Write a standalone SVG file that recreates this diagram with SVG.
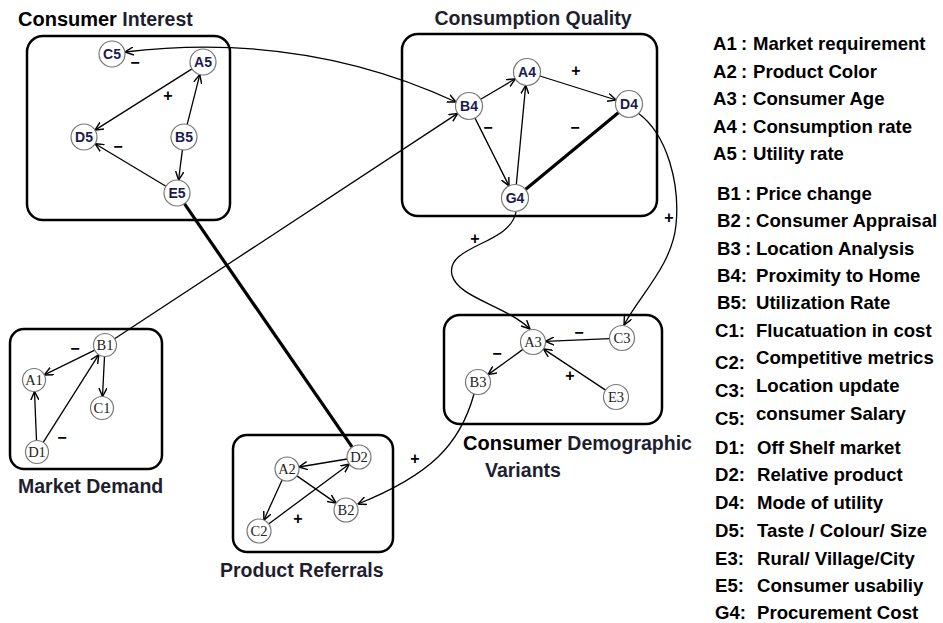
<svg xmlns="http://www.w3.org/2000/svg" width="943" height="623" viewBox="0 0 943 623">
<style>
.box{fill:none;stroke:#000;stroke-width:2.5}
.nd{fill:#fff;stroke:#777;stroke-width:1.2}
.ns{font-family:"Liberation Sans",Arial,sans-serif;font-size:14px;font-weight:bold;fill:#1a1a50;text-anchor:middle}
.nf{font-family:"Liberation Serif","Times New Roman",serif;font-size:14.5px;fill:#222;text-anchor:middle}
.e{fill:none;stroke:#000;stroke-width:1.3}
.t{fill:none;stroke:#000;stroke-width:3.2}
.sg{font-family:"Liberation Sans",Arial,sans-serif;font-size:16px;font-weight:bold;fill:#000;text-anchor:middle}
.ti{font-family:"Liberation Sans",Arial,sans-serif;font-weight:bold;fill:#1e1e30;font-size:19.5px}
.tc{fill:#000;font-size:20px}
.lg{font-family:"Liberation Sans",Arial,sans-serif;font-weight:bold;font-size:18.6px;fill:#000}
</style>
<defs>
<marker id="ar" viewBox="0 0 10 10" refX="9.5" refY="5" markerWidth="9" markerHeight="9" markerUnits="userSpaceOnUse" orient="auto-start-reverse">
<path d="M0,0.5 L9.5,5 L0,9.5" fill="none" stroke="#000" stroke-width="1.6"/>
</marker>
</defs>

<!-- Boxes and titles -->
<g id="consumer-interest">
<rect class="box" x="27" y="36" width="203" height="184" rx="16"/>
<text class="ti" x="18" y="26"><tspan class="tc">Consumer</tspan> Interest</text>
</g>
<g id="consumption-quality">
<rect class="box" x="402" y="34" width="255" height="182" rx="16"/>
<text class="ti" x="533" y="25" text-anchor="middle">Consumption Quality</text>
</g>
<g id="market-demand">
<rect class="box" x="10" y="329" width="152" height="140" rx="14"/>
<text class="ti" x="18" y="493">Market Demand</text>
</g>
<g id="consumer-demographic">
<rect class="box" x="444" y="315" width="218" height="109" rx="16"/>
<text class="ti" x="463" y="450"><tspan class="tc" font-size="21px">Consumer</tspan> Demographic</text>
<text class="ti" x="485" y="477">Variants</text>
</g>
<g id="product-referrals">
<rect class="box" x="233" y="435" width="160" height="117" rx="14"/>
<text class="ti" x="220" y="577">Product Referrals</text>
</g>

<!-- Connectors -->
<g id="connectors">
<line class="e" x1="192" y1="68.9" x2="95" y2="130.1" marker-end="url(#ar)"/>
<line class="e" x1="187.2" y1="124.4" x2="199.8" y2="74.6" marker-end="url(#ar)"/>
<line class="e" x1="182.4" y1="149.9" x2="178.6" y2="180.1" marker-end="url(#ar)"/>
<line class="e" x1="165.9" y1="186.3" x2="95.1" y2="143.7" marker-end="url(#ar)"/>
<path class="e" d="M125,52 C260,36 370,62 456,102" marker-start="url(#ar)" marker-end="url(#ar)"/>
<line class="e" x1="114.6" y1="338.7" x2="457.7" y2="113.4" marker-end="url(#ar)"/>
<line class="t" x1="184.4" y1="203.7" x2="352.2" y2="447.1"/>
<line class="e" x1="480.7" y1="99.2" x2="515.3" y2="78.8" marker-end="url(#ar)"/>
<line class="e" x1="539.9" y1="76" x2="616.1" y2="100" marker-end="url(#ar)"/>
<line class="e" x1="475" y1="118.1" x2="509" y2="185.9" marker-end="url(#ar)"/>
<line class="e" x1="516.3" y1="184.6" x2="525.7" y2="85.4" marker-end="url(#ar)"/>
<line class="t" x1="525.4" y1="189.4" x2="618.6" y2="112.6"/>
<path class="e" d="M638,113 C668,135 680,185 676,225 C672,265 640,295 624,325" marker-end="url(#ar)"/>
<path class="e" d="M516,212 C510,245 445,245 452,275 C458,298 505,305 530,329" marker-end="url(#ar)"/>
<line class="e" x1="94.7" y1="350.1" x2="44.3" y2="374.9" marker-end="url(#ar)"/>
<line class="e" x1="36.5" y1="440.5" x2="34.5" y2="391.5" marker-end="url(#ar)"/>
<line class="e" x1="43.2" y1="442.3" x2="98.8" y2="354.7" marker-end="url(#ar)"/>
<line class="e" x1="104.5" y1="356.5" x2="102.5" y2="396.5" marker-end="url(#ar)"/>
<line class="e" x1="609.5" y1="338.6" x2="545.5" y2="341.4" marker-end="url(#ar)"/>
<line class="e" x1="605.6" y1="390.1" x2="543.4" y2="348.9" marker-end="url(#ar)"/>
<line class="e" x1="522.9" y1="349.4" x2="488.1" y2="374.6" marker-end="url(#ar)"/>
<path class="e" d="M474,394 C460,445 430,475 358,504" marker-end="url(#ar)"/>
<line class="e" x1="347.2" y1="459" x2="298.8" y2="467" marker-end="url(#ar)"/>
<line class="e" x1="296.9" y1="475.9" x2="336.1" y2="503.1" marker-end="url(#ar)"/>
<line class="e" x1="282.1" y1="479.9" x2="263.9" y2="520.1" marker-end="url(#ar)"/>
<line class="e" x1="268.6" y1="523.9" x2="349.4" y2="464.1" marker-end="url(#ar)"/>
<text class="sg" x="135" y="67.5">−</text>
<text class="sg" x="168" y="100.5">+</text>
<text class="sg" x="118" y="151.5">−</text>
<text class="sg" x="576" y="75.5">+</text>
<text class="sg" x="488" y="132.5">−</text>
<text class="sg" x="575" y="132.5">−</text>
<text class="sg" x="669" y="222.5">+</text>
<text class="sg" x="475" y="243.5">+</text>
<text class="sg" x="75" y="353.5">−</text>
<text class="sg" x="62" y="442.5">−</text>
<text class="sg" x="579" y="337.5">−</text>
<text class="sg" x="570" y="380.5">+</text>
<text class="sg" x="497" y="358.5">−</text>
<text class="sg" x="298" y="523.5">+</text>
<text class="sg" x="415" y="463.5">+</text>
</g>

<!-- Nodes -->
<g id="C5"><circle class="nd" cx="112" cy="54" r="13"/><text class="ns" x="112" y="59">C5</text></g>
<g id="A5"><circle class="nd" cx="203" cy="62" r="13"/><text class="ns" x="203" y="67">A5</text></g>
<g id="D5"><circle class="nd" cx="84" cy="137" r="13"/><text class="ns" x="84" y="142">D5</text></g>
<g id="B5"><circle class="nd" cx="184" cy="137" r="13"/><text class="ns" x="184" y="142">B5</text></g>
<g id="E5"><circle class="nd" cx="177" cy="193" r="13"/><text class="ns" x="177" y="198">E5</text></g>
<g id="B4"><circle class="nd" cx="469" cy="106" r="13.5"/><text class="ns" x="469" y="111">B4</text></g>
<g id="A4"><circle class="nd" cx="527" cy="72" r="13.5"/><text class="ns" x="527" y="77">A4</text></g>
<g id="D4"><circle class="nd" cx="629" cy="104" r="13.5"/><text class="ns" x="629" y="109">D4</text></g>
<g id="G4"><circle class="nd" cx="515" cy="198" r="13.5"/><text class="ns" x="515" y="203">G4</text></g>
<g id="B1"><circle class="nd" cx="105" cy="345" r="11.5"/><text class="nf" x="105" y="350">B1</text></g>
<g id="A1"><circle class="nd" cx="34" cy="380" r="11.5"/><text class="nf" x="34" y="385">A1</text></g>
<g id="C1"><circle class="nd" cx="102" cy="408" r="11.5"/><text class="nf" x="102" y="413">C1</text></g>
<g id="D1"><circle class="nd" cx="37" cy="452" r="11.5"/><text class="nf" x="37" y="457">D1</text></g>
<g id="A3"><circle class="nd" cx="533" cy="342" r="12.5"/><text class="nf" x="533" y="347">A3</text></g>
<g id="C3"><circle class="nd" cx="622" cy="338" r="12.5"/><text class="nf" x="622" y="343">C3</text></g>
<g id="B3"><circle class="nd" cx="478" cy="382" r="12.5"/><text class="nf" x="478" y="387">B3</text></g>
<g id="E3"><circle class="nd" cx="616" cy="397" r="12.5"/><text class="nf" x="616" y="402">E3</text></g>
<g id="A2"><circle class="nd" cx="287" cy="469" r="12"/><text class="nf" x="287" y="474">A2</text></g>
<g id="D2"><circle class="nd" cx="359" cy="457" r="12"/><text class="nf" x="359" y="462">D2</text></g>
<g id="B2"><circle class="nd" cx="346" cy="510" r="12"/><text class="nf" x="346" y="515">B2</text></g>
<g id="C2"><circle class="nd" cx="259" cy="531" r="12"/><text class="nf" x="259" y="536">C2</text></g>

<!-- Legend -->
<g id="legend" class="lg">
<text y="50"><tspan x="713">A1</tspan> <tspan x="741">:</tspan> <tspan x="753">Market requirement</tspan></text>
<text y="78"><tspan x="713">A2</tspan> <tspan x="741">:</tspan> <tspan x="753">Product Color</tspan></text>
<text y="105"><tspan x="713">A3</tspan> <tspan x="741">:</tspan> <tspan x="753">Consumer Age</tspan></text>
<text y="133"><tspan x="713">A4</tspan> <tspan x="741">:</tspan> <tspan x="753">Consumption rate</tspan></text>
<text y="160"><tspan x="713">A5</tspan> <tspan x="741">:</tspan> <tspan x="753">Utility rate</tspan></text>
<text y="200"><tspan x="717">B1</tspan> <tspan x="745">:</tspan> <tspan x="756">Price change</tspan></text>
<text y="227"><tspan x="717">B2</tspan> <tspan x="745">:</tspan> <tspan x="756">Consumer Appraisal</tspan></text>
<text y="255"><tspan x="717">B3</tspan> <tspan x="745">:</tspan> <tspan x="756">Location Analysis</tspan></text>
<text y="282"><tspan x="717">B4:</tspan> <tspan x="756">Proximity to Home</tspan></text>
<text y="309"><tspan x="717">B5:</tspan> <tspan x="756">Utilization Rate</tspan></text>
<text y="337"><tspan x="715">C1:</tspan> <tspan x="756">Flucatuation in cost</tspan></text>
<text y="369"><tspan x="715">C2:</tspan> <tspan x="756" y="364">Competitive metrics</tspan></text>
<text y="397"><tspan x="715">C3:</tspan> <tspan x="756" y="392">Location update</tspan></text>
<text y="425"><tspan x="715">C5:</tspan> <tspan x="756" y="420">consumer Salary</tspan></text>
<text y="454"><tspan x="715">D1:</tspan> <tspan x="757">Off Shelf market</tspan></text>
<text y="481"><tspan x="715">D2:</tspan> <tspan x="757">Relative product</tspan></text>
<text y="509"><tspan x="715">D4:</tspan> <tspan x="757">Mode of utility</tspan></text>
<text y="537"><tspan x="715">D5:</tspan> <tspan x="757">Taste / Colour/ Size</tspan></text>
<text y="565"><tspan x="715">E3:</tspan> <tspan x="757">Rural/ Village/City</tspan></text>
<text y="592"><tspan x="715">E5:</tspan> <tspan x="757">Consumer usabiliy</tspan></text>
<text y="619"><tspan x="715">G4:</tspan> <tspan x="757">Procurement Cost</tspan></text>
</g>
</svg>
